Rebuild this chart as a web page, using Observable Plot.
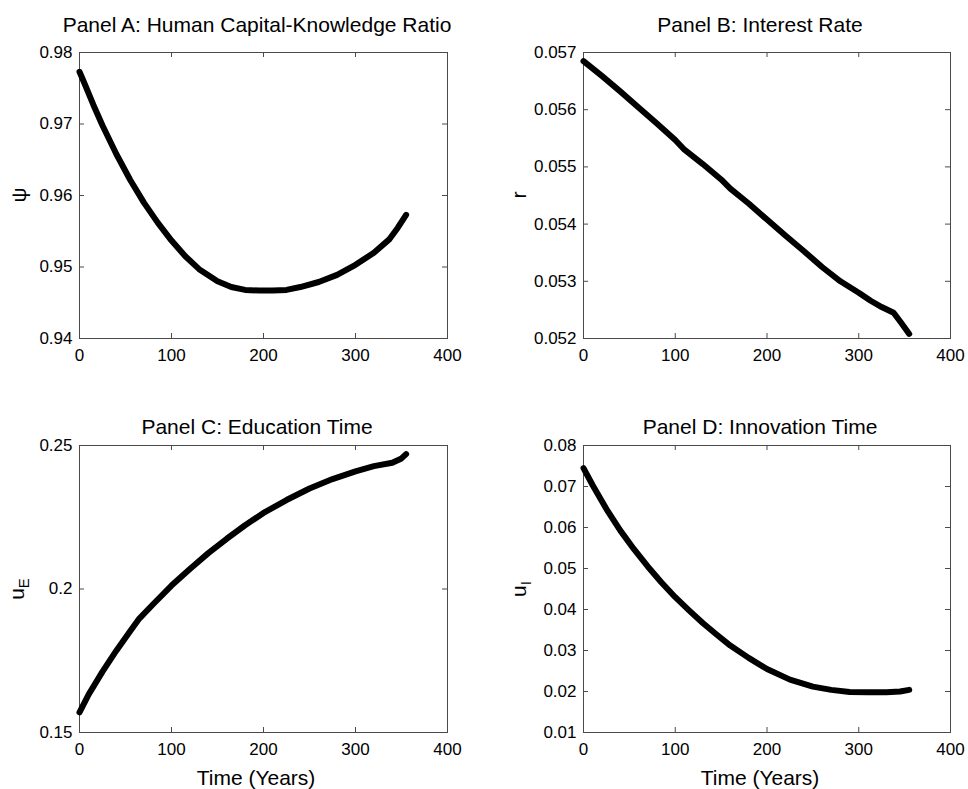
<!DOCTYPE html>
<html>
<head>
<meta charset="utf-8">
<script src="https://cdn.jsdelivr.net/npm/d3@7"></script>
<script src="https://cdn.jsdelivr.net/npm/@observablehq/plot@0.6"></script>
<style>
  body { margin: 0; background: #fff; }
  #fig { position: relative; width: 968px; height: 789px; overflow: hidden;
         font-family: "Liberation Sans", Arial, Helvetica, sans-serif; color: #000; }
  .txt { position: absolute; font-size: 21px; white-space: nowrap; line-height: 1;
         transform: translate(-50%, -50%); }
  .ylab { position: absolute; font-size: 21px; white-space: nowrap; line-height: 1;
          transform: translate(-50%, -50%) rotate(-90deg); }
  .ylab sub { font-size: 15px; vertical-align: -5px; }
  svg.panel { position: absolute; }
</style>
</head>
<body>
<div id="fig"></div>
<script>
// Shared time axis (years)
const timeTicks = [0, 100, 200, 300, 400];

// Panel A: human capital-knowledge ratio psi
const timeA = [0, 5, 15, 25, 40, 55, 70, 85, 100, 115, 130, 150, 165, 180, 195, 210, 225, 240, 260, 280, 300, 320, 337, 346, 355];
const psiValues = [0.9773, 0.9758, 0.9727, 0.9698, 0.9658, 0.9622, 0.9590, 0.9562, 0.9537, 0.9515, 0.9497, 0.9480, 0.9472, 0.9468, 0.9467, 0.9467, 0.9468, 0.9472, 0.9479, 0.9489, 0.9503, 0.9520, 0.9539, 0.9555, 0.9573];
const psiTicks = [0.94, 0.95, 0.96, 0.97, 0.98];

// Panel B: interest rate r
const timeB = [0, 20, 40, 60, 80, 100, 110, 130, 150, 160, 180, 200, 220, 240, 260, 280, 300, 313, 325, 338, 346, 355];
const rateValues = [0.05685, 0.05659, 0.05632, 0.05604, 0.05576, 0.05547, 0.05530, 0.05505, 0.05478, 0.05462, 0.05436, 0.05408, 0.05380, 0.05353, 0.05325, 0.05300, 0.05280, 0.05266, 0.05255, 0.05245, 0.05228, 0.05208];
const rateTicks = [0.052, 0.053, 0.054, 0.055, 0.056, 0.057];

// Panel C: education time u_E
const timeC = [0, 10, 25, 40, 55, 65, 80, 100, 120, 140, 160, 180, 200, 225, 250, 275, 300, 320, 340, 350, 355];
const eduValues = [0.157, 0.1633, 0.1712, 0.1785, 0.1853, 0.1897, 0.1947, 0.2012, 0.2070, 0.2125, 0.2175, 0.2222, 0.2265, 0.2310, 0.2350, 0.2383, 0.2410, 0.2428, 0.2440, 0.2455, 0.2470];
const eduTicks = [0.15, 0.2, 0.25];

// Panel D: innovation time u_I
const timeD = [0, 10, 25, 40, 55, 70, 85, 100, 115, 130, 145, 160, 180, 200, 225, 250, 270, 290, 310, 330, 345, 355];
const innoValues = [0.0745, 0.0703, 0.0645, 0.0593, 0.0547, 0.0505, 0.0466, 0.0430, 0.0398, 0.0367, 0.0339, 0.0312, 0.0282, 0.0255, 0.0229, 0.0212, 0.0204, 0.0199, 0.0198, 0.0198, 0.0200, 0.0204];
const innoTicks = [0.01, 0.02, 0.03, 0.04, 0.05, 0.06, 0.07, 0.08];

const axisColor = "#4a4a4a";
const fontFamily = '"Liberation Sans", Arial, Helvetica, sans-serif';

const panels = [
  { title: "Panel A: Human Capital-Knowledge Ratio", ylabel: "ψ",
    t: timeA, v: psiValues, ticks: psiTicks, domain: [0.94, 0.98],
    box: [79, 52, 447, 338], titleX: 257, ylabelX: 18 },
  { title: "Panel B: Interest Rate", ylabel: "r",
    t: timeB, v: rateValues, ticks: rateTicks, domain: [0.052, 0.057],
    box: [583, 52, 950, 338], titleX: 760, ylabelX: 518 },
  { title: "Panel C: Education Time", ylabel: "u<sub>E</sub>",
    t: timeC, v: eduValues, ticks: eduTicks, domain: [0.15, 0.25],
    box: [79, 445, 447, 732], titleX: 257, ylabelX: 18, xlabel: "Time (Years)", xlabelX: 256 },
  { title: "Panel D: Innovation Time", ylabel: "u<sub>I</sub>",
    t: timeD, v: innoValues, ticks: innoTicks, domain: [0.01, 0.08],
    box: [583, 445, 950, 732], titleX: 760, ylabelX: 520, xlabel: "Time (Years)", xlabelX: 760 }
];

const fig = document.getElementById("fig");

function addText(cls, html, x, y) {
  const el = document.createElement("div");
  el.className = cls;
  el.innerHTML = html;
  el.style.left = x + "px";
  el.style.top = y + "px";
  fig.appendChild(el);
}

for (const p of panels) {
  const [x0, y0, x1, y1] = p.box;
  const W = x1 - x0, H = y1 - y0;
  const mL = 79, mT = 10, mR = 15, mB = 32;
  const rows = p.t.map((t, i) => ({ t, v: p.v[i] }));

  const svg = Plot.plot({
    width: W + mL + mR, height: H + mT + mB,
    marginLeft: mL, marginTop: mT, marginRight: mR, marginBottom: mB,
    style: { fontFamily, fontSize: "17px", color: "#000", background: "transparent", overflow: "visible" },
    x: { domain: [0, 400] },
    y: { domain: p.domain },
    marks: [
      Plot.frame({ stroke: axisColor, strokeWidth: 1 }),
      // inward ticks on all four sides of the box
      Plot.tickX(timeTicks, { x: d => d, insetTop: H - 5, stroke: axisColor }),
      Plot.tickX(timeTicks, { x: d => d, insetBottom: H - 5, stroke: axisColor }),
      Plot.tickY(p.ticks, { y: d => d, insetRight: W - 5, stroke: axisColor }),
      Plot.tickY(p.ticks, { y: d => d, insetLeft: W - 5, stroke: axisColor }),
      Plot.axisX({ ticks: timeTicks, tickSize: 0, tickPadding: 10, label: null, tickFormat: d => String(d) }),
      Plot.axisY({ ticks: p.ticks, tickSize: 0, tickPadding: 7, label: null, tickFormat: d => String(d) }),
      Plot.line(rows, { x: "t", y: "v", stroke: "#000", strokeWidth: 6,
                        strokeLinejoin: "round", strokeLinecap: "round" })
    ]
  });
  svg.classList.add("panel");
  svg.style.left = (x0 - mL) + "px";
  svg.style.top = (y0 - mT) + "px";
  fig.appendChild(svg);

  addText("txt", p.title, p.titleX, y0 === 52 ? 24 : 426);
  addText("ylab", p.ylabel, p.ylabelX, (y0 + y1) / 2);
  if (p.xlabel) addText("txt", p.xlabel, p.xlabelX, 777);
}
</script>
</body>
</html>
